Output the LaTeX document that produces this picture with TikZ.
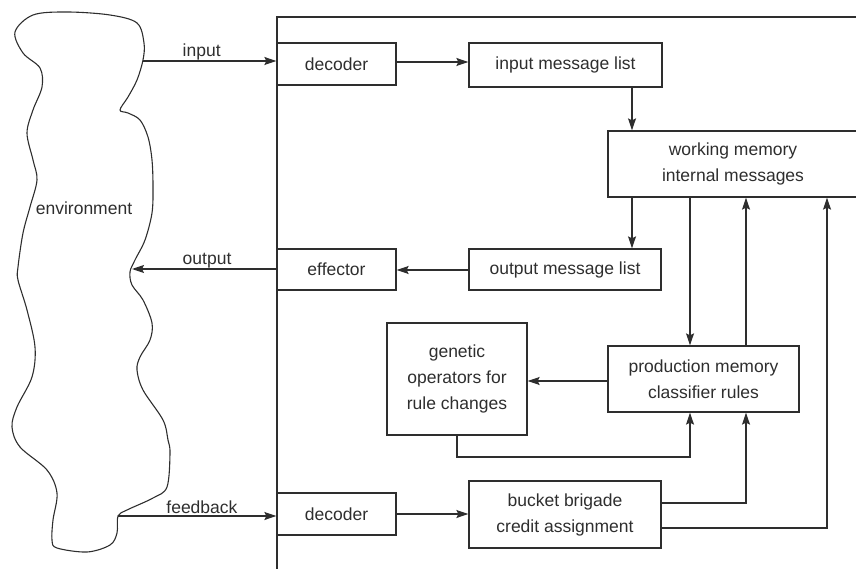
\documentclass[tikz,border=0pt]{standalone}
\usepackage{fontspec}
\setmainfont{Liberation Sans}
\usetikzlibrary{arrows.meta,calc}
\definecolor{ink}{gray}{0.18}
\begin{document}
\begin{tikzpicture}[x=1pt,y=-1pt,
  font=\fontsize{17.5}{26}\selectfont,
  every node/.style={text=ink},
  box/.style={draw=ink,line width=1.3pt,align=center,inner sep=0pt},
  flow/.style={draw=ink,line width=1.3pt,-{Stealth[length=12pt,width=8pt,inset=2pt]}},
  link/.style={draw=ink,line width=1.3pt},
  lbl/.style={anchor=base,inner sep=0pt,yshift=4pt}]
\useasboundingbox (0,0) rectangle (856,569);
\begin{scope}
\clip (0,0) rectangle (856,569);

% system frame
\draw[link] (277,600) -- (277,17) -- (900,17);

% boxes
\node[box,minimum width=119pt,minimum height=42pt] (dec1) at (336.5,64) {decoder};
\node[box,minimum width=193pt,minimum height=44pt] (iml) at (565.5,65) {input message list};
\node[box,minimum width=250pt,minimum height=66pt] (wm) at (733,164) {working memory\\internal messages};
\node[box,minimum width=192pt,minimum height=41pt] (oml) at (565,269.5) {output message list};
\node[box,minimum width=119pt,minimum height=41pt] (eff) at (336.5,269.5) {effector};
\node[box,minimum width=140pt,minimum height=112pt] (gen) at (457,379) {genetic\\operators for\\rule changes};
\node[box,minimum width=191pt,minimum height=66pt] (prod) at (703.5,379) {production memory\\classifier rules};
\node[box,minimum width=192pt,minimum height=67pt] (buck) at (565,514.5) {bucket brigade\\credit assignment};
\node[box,minimum width=119pt,minimum height=42pt] (dec2) at (336.5,514) {decoder};

% environment outline
\draw[ink,line width=1.1pt] plot[smooth cycle,tension=0.55] coordinates {
 (15,32) (33,15) (67,12) (110,15) (137,23) (144,43) (143,60) (137,80)
 (128,97) (120,110) (128,113) (140,120) (148,137) (152,160) (153,187)
 (152,213) (145,240) (135,260) (130,272) (132,285) (143,300) (152,323)
 (150,340) (140,357) (137,370) (143,390) (163,420) (168,440) (170,453)
 (167,487) (153,498) (127,510) (118,516) (117,533) (110,545) (87,552)
 (57,548) (52,540) (53,520) (57,493) (47,470) (20,447) (12,427) (17,407)
 (32,377) (35,347) (27,310) (18,280) (18,267) (23,233) (30,207) (37,180)
 (33,160) (27,133) (33,110) (42,87) (40,68) (23,53)};
\node (env) at (84,208) {environment};

% connector anchors
\coordinate (inp) at (143,61);
\coordinate (outp) at (132,269);
\coordinate (fb) at (118,516);
\coordinate (xa) at (632,0);
\coordinate (xb) at (690,0);
\coordinate (xc) at (746,0);
\coordinate (xd) at (827,0);
\coordinate (ya) at (0,503);
\coordinate (yb) at (0,528);

% environment links
\draw[flow] (inp) -- (inp -| dec1.west) node[lbl,pos=0.44] (linp) {input};
\draw[flow] (eff.west |- outp) -- (outp) node[lbl,pos=0.48] (lout) {output};
\draw[flow] (fb) -- (fb -| dec2.west) node[lbl,pos=0.53,yshift=-1pt] (lfb) {feedback};

% message flow
\draw[flow] (dec1.east |- 0,62) -- (iml.west |- 0,62);
\draw[flow] (iml.south -| xa) -- (wm.north -| xa);
\draw[flow] (wm.south -| xa) -- (oml.north -| xa);
\draw[flow] (oml.west |- 0,270) -- (eff.east |- 0,270);
\draw[flow] (wm.south -| xb) -- (prod.north -| xb);
\draw[flow] (prod.north -| xc) -- (wm.south -| xc);
\draw[flow] (prod.west |- 0,381) -- (gen.east |- 0,381);
\draw[flow] (gen.south) -- (gen.south |- 0,457) -| (prod.south -| xb);
\draw[flow] (dec2.east) -- (buck.west |- dec2.east);
\draw[flow] (buck.east |- ya) -| (prod.south -| xc);
\draw[flow] (buck.east |- yb) -| (wm.south -| xd);
\end{scope}
\end{tikzpicture}
\end{document}
